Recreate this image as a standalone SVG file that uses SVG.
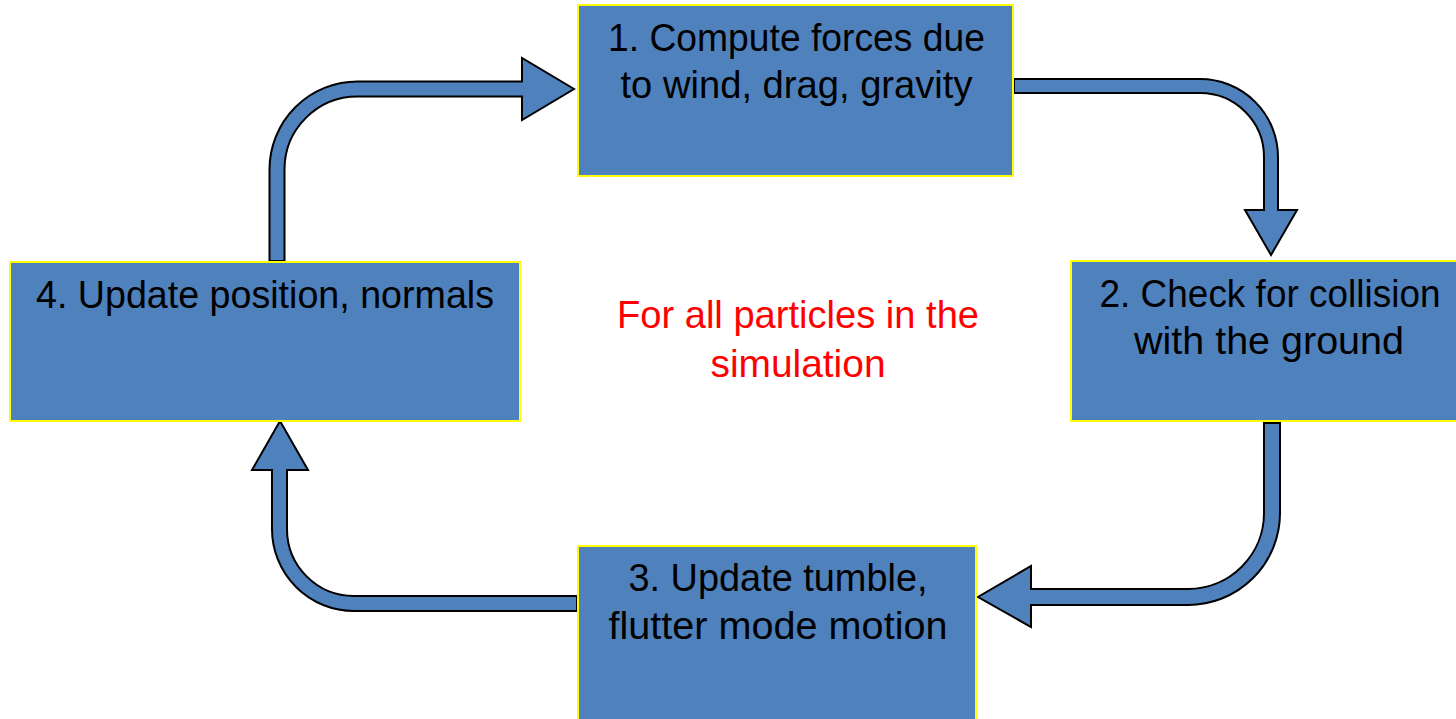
<svg xmlns="http://www.w3.org/2000/svg" width="1456" height="719" viewBox="0 0 1456 719">
  <style>
    .box { fill: #4F81BD; stroke: #FFFF00; stroke-width: 2; }
    .label { font-family: "Liberation Sans", Arial, sans-serif; font-size: 39px; fill: #000000; text-anchor: middle; }
    .note { font-family: "Liberation Sans", Arial, sans-serif; font-size: 39px; fill: #FF0000; text-anchor: middle; }
    .arrow { fill: #4F81BD; stroke: #000000; stroke-width: 2; stroke-linejoin: miter; }
  </style>
  <rect width="1456" height="719" fill="#FFFFFF"/>

  <!-- curved block arrows between the steps -->
  <g id="connectors">
    <!-- step 4 to step 1 -->
    <path class="arrow" d="M269.5,261 L269.5,169.5 A88,88 0 0 1 357.5,81.5 L522,81.5 L522,58 L574,89 L522,120 L522,96.5 L357.5,96.5 A73,73 0 0 0 284.5,169.5 L284.5,261 Z"/>
    <!-- step 1 to step 2 -->
    <path class="arrow" d="M1014,79 L1200,79 A78,78 0 0 1 1278,157 L1278,210 L1297,210 L1271,255 L1245,210 L1264,210 L1264,157 A64,64 0 0 0 1200,93 L1014,93 Z"/>
    <!-- step 2 to step 3 -->
    <path class="arrow" d="M1264,423 L1280,423 L1280,513 A92,92 0 0 1 1188,605 L1031,605 L1031,627 L978,597 L1031,566 L1031,589 L1188,589 A76,76 0 0 0 1264,513 Z"/>
    <!-- step 3 to step 4 -->
    <path class="arrow" d="M577,596 L577,611 L354,611 A82,82 0 0 1 272,529 L272,470 L252,470 L280,421 L308,470 L287,470 L287,529 A67,67 0 0 0 354,596 Z"/>
  </g>

  <g id="step1">
    <rect class="box" x="578" y="5" width="435" height="171"/>
    <text class="label" x="796.5" y="51" textLength="377" lengthAdjust="spacingAndGlyphs">1. Compute forces due</text>
    <text class="label" x="796.5" y="98" textLength="352" lengthAdjust="spacingAndGlyphs">to wind, drag, gravity</text>
  </g>

  <g id="step2">
    <rect class="box" x="1071" y="261" width="400" height="160"/>
    <text class="label" x="1270" y="307" textLength="341" lengthAdjust="spacingAndGlyphs">2. Check for collision</text>
    <text class="label" x="1269" y="354" textLength="270" lengthAdjust="spacingAndGlyphs">with the ground</text>
  </g>

  <g id="step3">
    <rect class="box" x="578" y="546" width="398" height="190"/>
    <text class="label" x="778" y="591" textLength="299" lengthAdjust="spacingAndGlyphs">3. Update tumble,</text>
    <text class="label" x="778" y="639" textLength="339" lengthAdjust="spacingAndGlyphs">flutter mode motion</text>
  </g>

  <g id="step4">
    <rect class="box" x="10" y="262" width="510" height="159"/>
    <text class="label" x="265" y="308" textLength="458" lengthAdjust="spacingAndGlyphs">4. Update position, normals</text>
  </g>

  <g id="loop-note">
    <text class="note" x="798" y="328" textLength="362" lengthAdjust="spacingAndGlyphs">For all particles in the</text>
    <text class="note" x="798" y="377" textLength="175" lengthAdjust="spacingAndGlyphs">simulation</text>
  </g>
</svg>
